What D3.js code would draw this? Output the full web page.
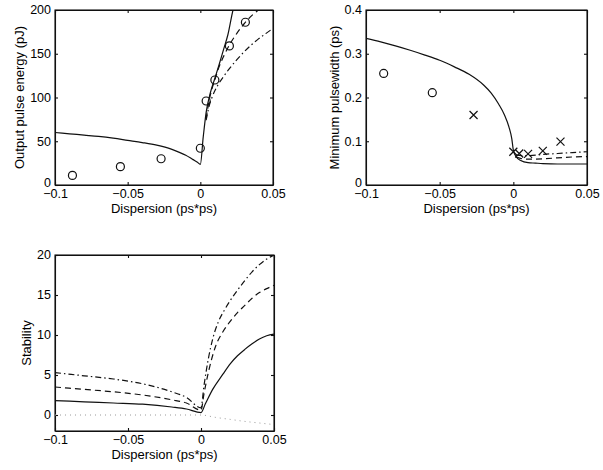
<!DOCTYPE html>
<html>
<head>
<meta charset="utf-8">
<script src="https://cdn.jsdelivr.net/npm/d3@7"></script>
<style>
  body { margin: 0; background: #fff; }
  svg text { font-family: "Liberation Sans", Arial, Helvetica, sans-serif; fill: #000; }
  .axis path, .axis line { stroke: #111; stroke-width: 1.1; }
  .axis text { font-size: 12.5px; }
  .labels { font-size: 13px; text-anchor: middle; }
</style>
</head>
<body>
<div id="chart"></div>
<script>
// Shared x axis (dispersion)
const dispTicks = [-0.1, -0.05, 0, 0.05]
const dispTickLabels = ['\u22120.1', '\u22120.05', '0', '0.05']

// Panel 1 - output pulse energy (pJ)
const energyTicks = [0, 50, 100, 150, 200]
const energyMeasX = [-0.088, -0.055, -0.027, 0, 0.004, 0.01, 0.02, 0.031]
const energyMeasY = [11, 21, 30, 42, 96, 120, 159, 186]
const energySolidX = [-0.1, -0.09, -0.08, -0.07, -0.06, -0.05, -0.04, -0.03, -0.02, -0.014, -0.01, -0.005, -0.002, 0, 0.002, 0.004, 0.007, 0.01, 0.013, 0.016, 0.019, 0.0225, 0.025]
const energySolidY = [60, 58.5, 57, 55.5, 53.5, 51, 48.5, 45.5, 41, 37, 34, 29, 26, 23.5, 55, 83, 106, 122, 138, 155, 172, 200, 213]
const energyDashX = [0.004, 0.006, 0.008, 0.01, 0.012, 0.016, 0.02, 0.025, 0.03, 0.035, 0.04, 0.045]
const energyDashY = [76, 96, 110, 120, 131, 147, 160, 173, 184, 193, 200, 207]
const energyDashDotX = [0.004, 0.006, 0.008, 0.012, 0.016, 0.02, 0.025, 0.03, 0.035, 0.04, 0.045, 0.05]
const energyDashDotY = [74, 90, 100, 114, 124, 133, 143, 152, 160, 167, 173, 179]

// Panel 2 - minimum pulsewidth (ps)
const widthTicks = [0, 0.1, 0.2, 0.3, 0.4]
const widthCircleX = [-0.088, -0.055]
const widthCircleY = [0.255, 0.211]
const widthCrossX = [-0.027, 0, 0.004, 0.01, 0.02, 0.032]
const widthCrossY = [0.16, 0.076, 0.072, 0.071, 0.078, 0.099]
const widthSolidX = [-0.1, -0.09, -0.08, -0.07, -0.06, -0.05, -0.04, -0.03, -0.02, -0.015, -0.01, -0.006, -0.003, -0.001, 0, 0.002, 0.005, 0.01, 0.015, 0.02, 0.03, 0.04, 0.05]
const widthSolidY = [0.335, 0.327, 0.318, 0.308, 0.297, 0.285, 0.27, 0.253, 0.228, 0.21, 0.185, 0.16, 0.133, 0.105, 0.08, 0.064, 0.056, 0.051, 0.05, 0.049, 0.048, 0.048, 0.048]
const widthDashX = [0.002, 0.006, 0.01, 0.02, 0.03, 0.04, 0.05]
const widthDashY = [0.064, 0.06, 0.059, 0.06, 0.062, 0.064, 0.065]
const widthDashDotX = [0.002, 0.006, 0.01, 0.02, 0.03, 0.04, 0.05]
const widthDashDotY = [0.068, 0.067, 0.067, 0.07, 0.072, 0.074, 0.076]

// Panel 3 - stability
const stabTicks = [0, 5, 10, 15, 20]
const stabSolidX = [-0.1, -0.08, -0.06, -0.04, -0.02, -0.01, 0, 0.003, 0.008, 0.015, 0.02, 0.025, 0.03, 0.035, 0.04, 0.045, 0.05]
const stabSolidY = [1.8, 1.65, 1.5, 1.35, 1.0, 0.75, 0.3, 1.4, 3.2, 5.1, 6.4, 7.4, 8.2, 8.9, 9.5, 9.9, 10.1]
const stabDashX = [-0.1, -0.08, -0.06, -0.04, -0.02, -0.01, 0, 0.002, 0.005, 0.01, 0.015, 0.02, 0.025, 0.03, 0.035, 0.04, 0.045, 0.05]
const stabDashY = [3.5, 3.2, 2.9, 2.5, 1.9, 1.5, 0.6, 2.6, 5.3, 8.6, 10.4, 11.7, 12.8, 13.7, 14.6, 15.3, 15.8, 16.2]
const stabDashDotX = [-0.1, -0.08, -0.06, -0.04, -0.02, -0.01, 0, 0.002, 0.005, 0.008, 0.012, 0.016, 0.02, 0.025, 0.03, 0.035, 0.04, 0.045, 0.05]
const stabDashDotY = [5.3, 4.9, 4.5, 3.9, 2.9, 2.2, 0.9, 3.6, 7.0, 9.5, 11.7, 13.1, 14.3, 15.6, 16.8, 17.9, 18.8, 19.5, 20.0]
const stabDotX = [-0.1, -0.05, 0, 0.01, 0.02, 0.03, 0.04, 0.05]
const stabDotY = [0, 0, 0, -0.3, -0.55, -0.8, -1.0, -1.2]

var width = 603
var height = 470

var svg = d3.select('#chart')
  .append('svg')
  .attr('width', width)
  .attr('height', height)

const zip = (xs, ys) => xs.map((x, i) => [x, ys[i]])

// Draw one MATLAB-style panel
function panel(cfg) {
  const x = d3.scaleLinear().domain([-0.1, 0.05]).range([cfg.left, cfg.right])
  const y = d3.scaleLinear().domain(cfg.yDomain).range([cfg.bottom, cfg.top])
  const g = svg.append('g')

  g.append('clipPath').attr('id', cfg.id)
    .append('rect')
    .attr('x', cfg.left).attr('y', cfg.top)
    .attr('width', cfg.right - cfg.left).attr('height', cfg.bottom - cfg.top)

  // Axes, ticks inward on all four sides
  g.append('g').attr('class', 'axis xlab')
    .attr('transform', `translate(0, ${cfg.bottom})`)
    .call(d3.axisBottom(x).tickValues(dispTicks).tickSizeInner(-3).tickSizeOuter(0).tickPadding(3)
      .tickFormat((d, i) => dispTickLabels[i]))
  g.append('g').attr('class', 'axis')
    .attr('transform', `translate(0, ${cfg.top})`)
    .call(d3.axisTop(x).tickValues(dispTicks).tickSizeInner(-3).tickSizeOuter(0).tickFormat(''))
  g.append('g').attr('class', 'axis ylab')
    .attr('transform', `translate(${cfg.left}, 0)`)
    .call(d3.axisLeft(y).tickValues(cfg.yTicks).tickSizeInner(-3).tickSizeOuter(0).tickPadding(cfg.yPad)
      .tickFormat(d3.format('')))
  g.append('g').attr('class', 'axis')
    .attr('transform', `translate(${cfg.right}, 0)`)
    .call(d3.axisRight(y).tickValues(cfg.yTicks).tickSizeInner(-3).tickSizeOuter(0).tickFormat(''))
  g.selectAll('.xlab .tick text').attr('dy', '0.76em')
  g.selectAll('.ylab .tick text').attr('dy', '0.3em')
  // lift the bottom y label a little, as in the original
  g.selectAll('.ylab .tick text').filter(d => d === cfg.yDomain[0] || d === 0 && cfg.yDomain[0] === 0).attr('dy', '0.1em')

  // Box
  g.append('rect')
    .attr('x', cfg.left).attr('y', cfg.top)
    .attr('width', cfg.right - cfg.left).attr('height', cfg.bottom - cfg.top)
    .attr('fill', 'none').attr('stroke', '#111').attr('stroke-width', 1.1)

  const line = d3.line().x(d => x(d[0])).y(d => y(d[1])).curve(d3.curveMonotoneX)
  const plot = g.append('g').attr('clip-path', `url(#${cfg.id})`)
  cfg.lines.forEach(l => {
    plot.append('path')
      .datum(zip(l.xs, l.ys))
      .attr('d', line)
      .attr('fill', 'none')
      .attr('stroke', l.color || '#111')
      .attr('stroke-width', l.w || 1.2)
      .attr('stroke-dasharray', l.dash)
  })

  ;(cfg.circles || []).forEach(c => {
    g.selectAll(null)
      .data(zip(c.xs, c.ys))
      .enter()
      .append('circle')
      .attr('cx', d => x(d[0]))
      .attr('cy', d => y(d[1]))
      .attr('r', 4)
      .attr('fill', 'none')
      .attr('stroke', '#111')
      .attr('stroke-width', 1.2)
  })

  ;(cfg.crosses || []).forEach(c => {
    g.selectAll(null)
      .data(zip(c.xs, c.ys))
      .enter()
      .append('path')
      .attr('d', d => {
        const cx = x(d[0]), cy = y(d[1]), s = 4
        return `M${cx - s},${cy - s}L${cx + s},${cy + s}M${cx - s},${cy + s}L${cx + s},${cy - s}`
      })
      .attr('stroke', '#111')
      .attr('stroke-width', 1.2)
  })

  // Axis labels
  g.append('text')
    .attr('class', 'labels')
    .attr('x', (cfg.left + cfg.right) / 2)
    .attr('y', cfg.bottom + 28)
    .text('Dispersion (ps*ps)')
  g.append('text')
    .attr('class', 'labels')
    .attr('transform', `translate(${cfg.yLabelX}, ${(cfg.top + cfg.bottom) / 2}) rotate(-90)`)
    .text(cfg.yLabel)
}

panel({
  id: 'clip1', left: 55, right: 273, top: 10, bottom: 185,
  yDomain: [0, 200], yTicks: energyTicks, yPad: 4,
  yLabel: 'Output pulse energy (pJ)', yLabelX: 24,
  lines: [
    { xs: energySolidX, ys: energySolidY },
    { xs: energyDashX, ys: energyDashY, dash: '6,4' },
    { xs: energyDashDotX, ys: energyDashDotY, dash: '6,3,1.5,3' }
  ],
  circles: [{ xs: energyMeasX, ys: energyMeasY }]
})

panel({
  id: 'clip2', left: 366, right: 587, top: 10, bottom: 185,
  yDomain: [0, 0.4], yTicks: widthTicks, yPad: 4,
  yLabel: 'Minimum pulsewidth (ps)', yLabelX: 339,
  lines: [
    { xs: widthSolidX, ys: widthSolidY },
    { xs: widthDashX, ys: widthDashY, dash: '6,4' },
    { xs: widthDashDotX, ys: widthDashDotY, dash: '6,3,1.5,3' }
  ],
  circles: [{ xs: widthCircleX, ys: widthCircleY }],
  crosses: [{ xs: widthCrossX, ys: widthCrossY }]
})

panel({
  id: 'clip3', left: 55, right: 274, top: 255, bottom: 431,
  yDomain: [-2, 20], yTicks: stabTicks, yPad: 4,
  yLabel: 'Stability', yLabelX: 31,
  lines: [
    { xs: stabDotX, ys: stabDotY, dash: '1,4', color: '#999', w: 1 },
    { xs: stabSolidX, ys: stabSolidY },
    { xs: stabDashX, ys: stabDashY, dash: '6,4' },
    { xs: stabDashDotX, ys: stabDashDotY, dash: '6,3,1.5,3' }
  ]
})
</script>
</body>
</html>
